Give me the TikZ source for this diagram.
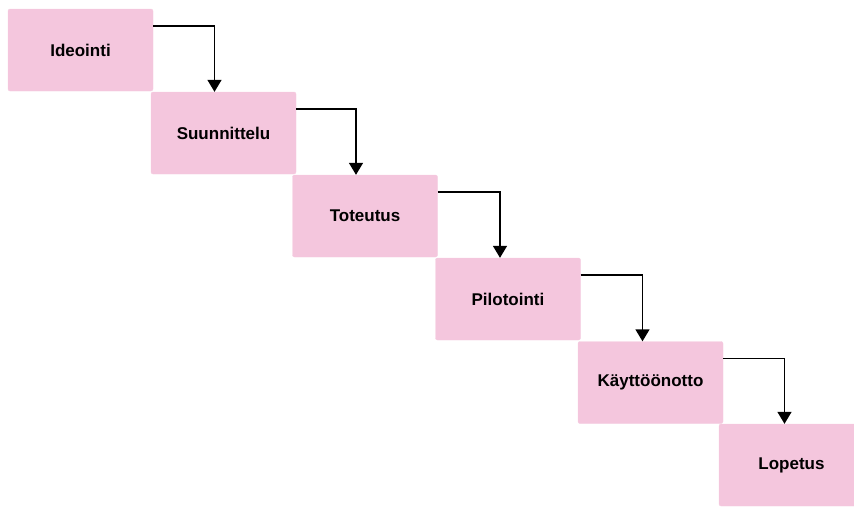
\documentclass[tikz,border=0pt]{standalone}
\usepackage{fontspec}
\setmainfont{Liberation Sans}
\usetikzlibrary{arrows.meta}
\definecolor{boxpink}{RGB}{244,198,221}
\tikzset{
  phase/.style={draw=boxpink!90!white, fill=boxpink, rounded corners=2pt, minimum width=145pt, minimum height=82pt, inner sep=0pt, font=\fontsize{17}{19}\selectfont\bfseries, text=black},
  flow/.style={draw=black, line width=1.5pt, -{Triangle[width=14pt,length=12pt]}}
}
\begin{document}
\begin{tikzpicture}[x=1pt,y=-1pt]
\useasboundingbox (0,0) rectangle (854,507);
\node[phase] (a) at (80.5,50) {Ideointi};
\node[phase] (b) at (223.5,133) {Suunnittelu};
\node[phase] (c) at (365,216) {Toteutus};
\node[phase] (d) at (508,299) {Pilotointi};
\node[phase] (e) at (650.5,382.5) {Käyttöönotto};
\node[phase] (f) at (791.5,465) {Lopetus};
\draw[flow] ([yshift=24pt]a.east) -| ([xshift=-9pt]b.north);
\draw[flow] ([yshift=24pt]b.east) -| ([xshift=-9pt]c.north);
\draw[flow] ([yshift=24pt]c.east) -| ([xshift=-8pt]d.north);
\draw[flow] ([yshift=24pt]d.east) -| ([xshift=-8pt]e.north);
\draw[flow] ([yshift=24pt]e.east) -| ([xshift=-7pt]f.north);
\end{tikzpicture}
\end{document}
